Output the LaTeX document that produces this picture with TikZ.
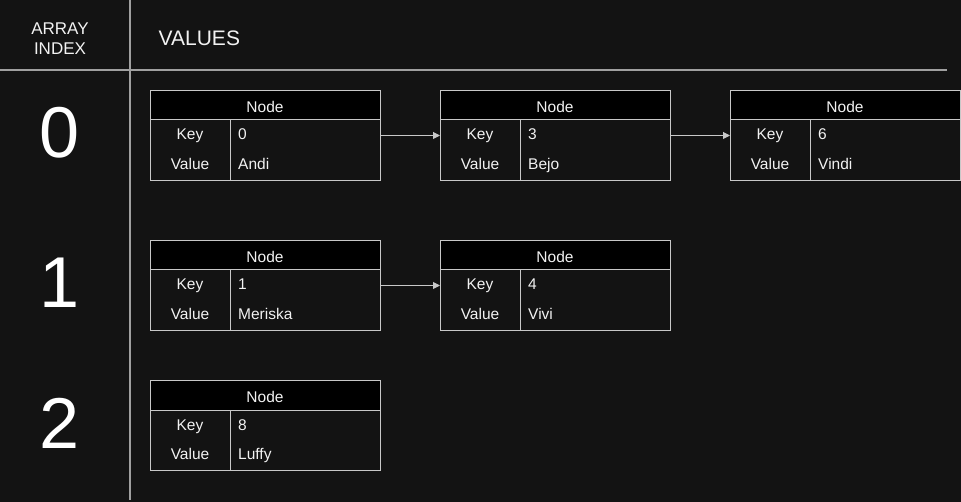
\documentclass[tikz,border=0pt]{standalone}
\usepackage{fontspec}
\setmainfont{Liberation Sans}
\usetikzlibrary{arrows.meta}
\definecolor{bg}{HTML}{131313}
\definecolor{boxline}{HTML}{C8C8C8}
\definecolor{sepline}{HTML}{A0A0A0}
\definecolor{txtc}{HTML}{F2F2F2}
\tikzset{
  box/.style={draw=boxline, line width=1pt, minimum width=230pt, minimum height=90pt, inner sep=0pt, anchor=north west},
  txt/.style={text=txtc, font=\fontsize{15.5}{18}\selectfont, inner sep=0pt},
  idx/.style={text=white, font=\fontsize{72}{80}\selectfont, inner sep=0pt, anchor=base},
  link/.style={draw=boxline, line width=1pt, -{Triangle[length=7pt,width=7pt]}},
  sep/.style={draw=sepline, line width=1.2pt}
}
\newcommand\hashbox[5]{%
  \fill[black] (#2,#3) rectangle (#2+230,#3+30);
  \node[box] (#1) at (#2,#3) {};
  \draw[boxline, line width=1pt] ([yshift=-30pt]#1.north west) -- ([yshift=-30pt]#1.north east);
  \draw[boxline, line width=1pt] ([xshift=80pt,yshift=-30pt]#1.north west) -- ([xshift=80pt]#1.south west);
  \node[txt, anchor=base] (#1h) at (#2+115,#3+22.3) {Node};
  \node[txt, anchor=base] (#1k) at (#2+40,#3+50) {Key};
  \node[txt, anchor=base] (#1v) at (#2+40,#3+79.3) {Value};
  \node[txt, anchor=base west] (#1kv) at (#2+88,#3+50) {#4};
  \node[txt, anchor=base west] (#1vv) at (#2+88,#3+79.3) {#5};
}
\begin{document}
\begin{tikzpicture}[x=1pt,y=-1pt]
\fill[bg] (0,0) rectangle (961,502);
\useasboundingbox (0,0) rectangle (961,502);
% separators
\coordinate (vtop) at (130,0);
\coordinate (vbot) at (130,500);
\coordinate (hl) at (0,70);
\coordinate (hr) at (947,70);
\draw[sep] (vtop) -- (vbot);
\draw[sep] (hl) -- (hr);
% headers
\node[txt, anchor=base, font=\fontsize{17}{19}\selectfont] (ah1) at (60,34.3) {ARRAY};
\node[txt, anchor=base, font=\fontsize{17}{19}\selectfont] (ah2) at (60,55) {INDEX};
\node[txt, anchor=base west, font=\fontsize{21}{23}\selectfont] (vh) at (158.5,45.7) {VALUES};
% indices
\node[idx] (i0) at (60,158) {0};
\node[idx] (i1) at (60,308) {1};
\node[idx] (i2) at (60,448) {2};
% boxes
\hashbox{a}{150}{90}{0}{Andi}
\hashbox{b}{440}{90}{3}{Bejo}
\hashbox{c}{730}{90}{6}{Vindi}
\hashbox{d}{150}{240}{1}{Meriska}
\hashbox{e}{440}{240}{4}{Vivi}
\hashbox{f}{150}{380}{8}{Luffy}
% links
\draw[link] (a.east) -- (b.west);
\draw[link] (b.east) -- (c.west);
\draw[link] (d.east) -- (e.west);
\end{tikzpicture}
\end{document}
